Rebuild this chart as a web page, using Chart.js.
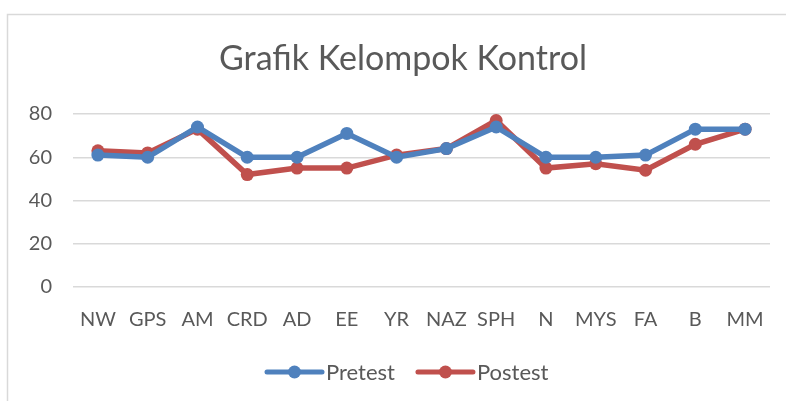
<!DOCTYPE html>
<html>
<head>
<meta charset="utf-8">
<script src="https://cdn.jsdelivr.net/npm/chart.js@4"></script>
<style>
  html, body { margin: 0; padding: 0; background: #fff; }
  #wrap { width: 786px; height: 401px; }
</style>
</head>
<body>
<div id="wrap"><canvas id="chart" width="786" height="401"></canvas></div>
<script>
// ===== DATA =====
const categories = ['NW', 'GPS', 'AM', 'CRD', 'AD', 'EE', 'YR', 'NAZ', 'SPH', 'N', 'MYS', 'FA', 'B', 'MM'];
const pretest = [61, 60, 74, 60, 60, 71, 60, 64, 74, 60, 60, 61, 73, 73];
const postest = [63, 62, 73, 52, 55, 55, 61, 64, 77, 55, 57, 54, 66, 73];
const yTicks = [0, 20, 40, 60, 80];

const TEXT_COLOR = '#595959';
const FONT = 'Lato, "Open Sans", sans-serif';

// Marco y título como en Excel
const framePlugin = {
    id: 'frame',
    beforeDraw: (chart) => {
        const ctx = chart.ctx;
        ctx.save();
        ctx.strokeStyle = '#d9d9d9';
        ctx.lineWidth = 1.5;
        ctx.beginPath();
        ctx.moveTo(7.5, chart.height);
        ctx.lineTo(7.5, 14.5);
        ctx.lineTo(chart.width, 14.5);
        ctx.stroke();
        ctx.restore();
    },
    afterDraw: (chart) => {
        const ctx = chart.ctx;
        ctx.save();
        ctx.fillStyle = TEXT_COLOR;
        ctx.textAlign = 'center';
        ctx.textBaseline = 'middle';
        ctx.font = `34px ${FONT}`;
        ctx.fillText('Grafik Kelompok Kontrol', 403, 59);
        ctx.restore();
    }
};

// Leyenda personalizada (línea + marcador)
const legendPlugin = {
    id: 'lineLegend',
    afterDraw: (chart) => {
        const ctx = chart.ctx;
        const items = chart.data.datasets;
        const y = 372;
        let x = 267;
        ctx.save();
        ctx.font = `22px ${FONT}`;
        ctx.textBaseline = 'middle';
        ctx.textAlign = 'left';
        items.forEach(ds => {
            ctx.strokeStyle = ds.borderColor;
            ctx.lineWidth = 5;
            ctx.lineCap = 'round';
            ctx.beginPath();
            ctx.moveTo(x, y);
            ctx.lineTo(x + 55, y);
            ctx.stroke();
            ctx.fillStyle = ds.borderColor;
            ctx.beginPath();
            ctx.arc(x + 27.5, y, 6.5, 0, Math.PI * 2);
            ctx.fill();
            ctx.fillStyle = TEXT_COLOR;
            ctx.fillText(ds.label, x + 59, y + 1);
            x += 59 + ctx.measureText(ds.label).width + 23;
        });
        ctx.restore();
    }
};

new Chart(document.getElementById('chart'), {
    type: 'line',
    data: {
        labels: categories,
        datasets: [
            {
                label: 'Pretest',
                data: pretest,
                borderColor: '#4f81bd',
                backgroundColor: '#4f81bd',
                borderWidth: 5.5,
                pointRadius: 6.5,
                pointHoverRadius: 6.5,
                pointBorderWidth: 0,
                tension: 0
            },
            {
                label: 'Postest',
                data: postest,
                borderColor: '#c0504d',
                backgroundColor: '#c0504d',
                borderWidth: 5.5,
                pointRadius: 6.5,
                pointHoverRadius: 6.5,
                pointBorderWidth: 0,
                tension: 0
            }
        ]
    },
    options: {
        responsive: false,
        animation: false,
        devicePixelRatio: 1,
        clip: false,
        layout: { padding: { top: 114, right: 16, bottom: 0, left: 0 } },
        plugins: {
            legend: { display: false },
            title: { display: false },
            tooltip: { enabled: false }
        },
        scales: {
            x: {
                offset: true,
                grid: { display: false, drawTicks: false },
                border: { display: false },
                ticks: {
                    color: TEXT_COLOR,
                    font: { family: FONT, size: 20 },
                    padding: 21,
                    maxRotation: 0,
                    autoSkip: false
                },
                afterFit: (scale) => { scale.height = 114; }
            },
            y: {
                min: 0,
                max: 80,
                afterBuildTicks: (scale) => { scale.ticks = yTicks.map(v => ({ value: v })); },
                grid: { color: '#d9d9d9', lineWidth: 1.5, drawTicks: false },
                border: { display: false },
                ticks: {
                    color: TEXT_COLOR,
                    font: { family: FONT, size: 20 },
                    padding: 21
                },
                afterFit: (scale) => { scale.width = 73; }
            }
        }
    },
    plugins: [framePlugin, legendPlugin]
});
</script>
</body>
</html>
